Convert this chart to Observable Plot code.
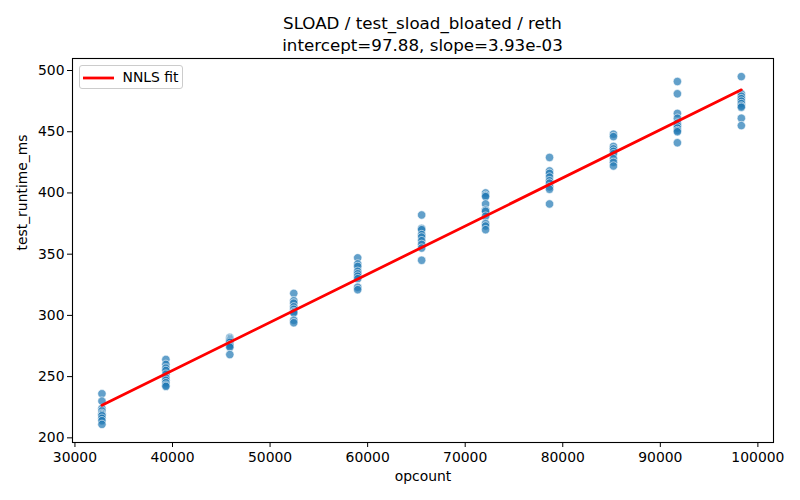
<!DOCTYPE html>
<html>
<head>
<meta charset="utf-8">
<script src="https://cdn.jsdelivr.net/npm/d3@7"></script>
<script src="https://cdn.jsdelivr.net/npm/@observablehq/plot@0.6"></script>
<style>
  html, body { margin: 0; padding: 0; background: #fff; }
  #wrap { position: relative; width: 800px; height: 500px; font-family: "DejaVu Sans", sans-serif; color: #000; }
  #title { position: absolute; left: 0; top: 13.2px; width: 845px; text-align: center; font-size: 16.7px; line-height: 21.5px; }
  #chart { position: absolute; left: 0; top: 55px; }
  #legend { position: absolute; left: 78.5px; top: 65px; width: 104px; height: 24px; box-sizing: border-box;
            border: 1px solid #cccccc; border-radius: 3px; background: rgba(255,255,255,0.8); }
  #legend svg { position: absolute; left: 3px; top: 10px; }
  #legend span { position: absolute; left: 43px; top: 3px; font-size: 13.9px; line-height: 17px; }
</style>
</head>
<body>
<div id="wrap">
  <div id="title">SLOAD / test_sload_bloated / reth<br>intercept=97.88, slope=3.93e-03</div>
  <div id="chart"></div>
  <div id="legend"><svg width="32" height="4"><line x1="0" x2="31" y1="2" y2="2" stroke="red" stroke-width="2.78"/></svg><span>NNLS fit</span></div>
</div>
<script>
// opcount levels (x)
const opcounts = [32768, 39322, 45875, 52429, 58982, 65536, 72090, 78643, 85197, 91750, 98304];
// test_runtime_ms observations per opcount level (y)
const runtimes = [
  [236, 230, 224, 222, 220, 219, 218, 216, 214, 211],
  [264, 260, 257, 255, 252, 249, 247, 245, 243, 242],
  [282, 281, 280, 279, 278, 276, 275, 274, 268],
  [318, 312, 310, 307, 305, 303, 302, 296, 294],
  [347, 342, 340, 336, 334, 332, 330, 323, 321],
  [382, 371, 370, 366, 364, 361, 358, 355, 345],
  [400, 398, 397, 391, 386, 385, 381, 375, 373, 370],
  [429, 418, 416, 413, 410, 408, 405, 403, 391],
  [448, 446, 438, 436, 434, 432, 428, 425, 422],
  [491, 481, 465, 461, 457, 455, 453, 451, 450, 441],
  [495, 481, 479, 477, 475, 473, 471, 470, 461, 455]
];
// NNLS fit parameters
const intercept = 97.88;
const slope = 3.93e-3;
const fitX = [32768, 98304];
// axis ticks
const xTicks = [30000, 40000, 50000, 60000, 70000, 80000, 90000, 100000];
const yTicks = [200, 250, 300, 350, 400, 450, 500];

const points = opcounts.flatMap((x, i) => runtimes[i].map(y => ({x, y})));
const fit = fitX.map(x => ({x, y: intercept + slope * x}));

const plot = Plot.plot({
  width: 800,
  height: 445,
  marginTop: 3,
  marginBottom: 58,
  marginLeft: 72,
  marginRight: 27,
  style: {fontFamily: "DejaVu Sans, sans-serif", fontSize: "13.9px", color: "#000", background: "#fff"},
  x: {domain: [29750, 101600], ticks: xTicks, tickFormat: d3.format("d"), label: null},
  y: {domain: [196.2, 509.8], ticks: yTicks, tickFormat: d3.format("d"), label: null},
  marks: [
    Plot.axisX({ticks: xTicks, tickFormat: d3.format("d"), tickSize: 5, tickPadding: 5, label: null, stroke: "#000", fill: "#000"}),
    Plot.axisY({ticks: yTicks, tickFormat: d3.format("d"), tickSize: 5, tickPadding: 3, label: null, stroke: "#000", fill: "#000"}),
    Plot.dot(points, {x: "x", y: "y", r: 4.2, fill: "#1f77b4", fillOpacity: 0.7, stroke: "#fff", strokeWidth: 0.6}),
    Plot.line(fit, {x: "x", y: "y", stroke: "red", strokeWidth: 2.78}),
    Plot.frame({stroke: "#000", strokeWidth: 1.1}),
    Plot.text(["opcount"], {text: d => d, frameAnchor: "bottom", dy: 38.5, fontSize: 13.9, fill: "#000"}),
    Plot.text(["test_runtime_ms"], {text: d => d, frameAnchor: "left", dx: -50, rotate: -90, fontSize: 13.9, fill: "#000"})
  ]
});
document.getElementById("chart").appendChild(plot);
</script>
</body>
</html>
